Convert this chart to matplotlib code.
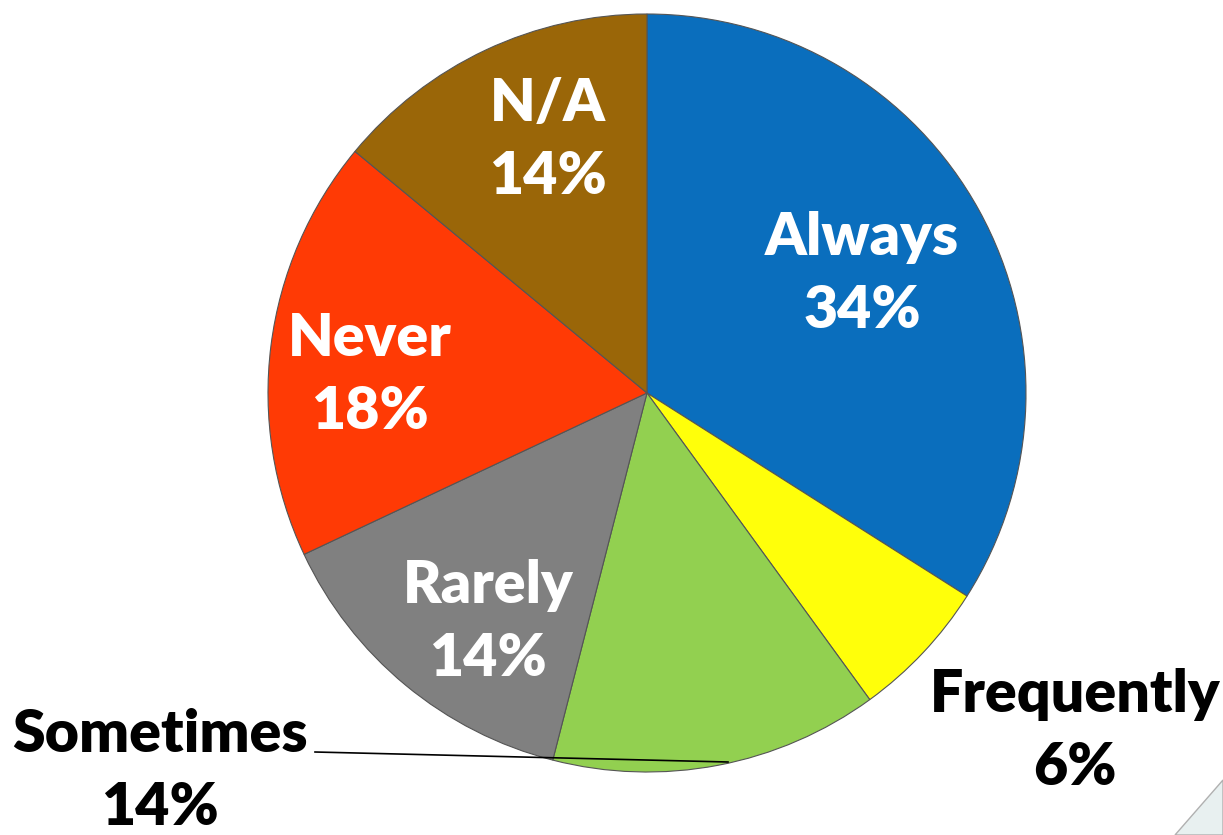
import matplotlib
matplotlib.use("Agg")
import matplotlib.pyplot as plt
from matplotlib.patches import Polygon

categories = ["Always", "Frequently", "Sometimes", "Rarely", "Never", "N/A"]
values = [34, 6, 14, 14, 18, 14]
colors = ["#0A6EBD", "#FFFF0A", "#92D050", "#808080", "#FF3A05", "#9A6608"]
text_colors = ["white", "black", "black", "white", "white", "white"]

W, H = 1223, 835
fig = plt.figure(figsize=(W / 100, H / 100), dpi=100)
ax = fig.add_axes([0, 0, 1, 1])

cx, cy, r = 647, H - 393, 379
wedges, _ = ax.pie(values, colors=colors, startangle=90, counterclock=False,
                   center=(cx, cy), radius=r, frame=True,
                   wedgeprops=dict(edgecolor="#555555", linewidth=0.8))
ax.set_xlim(0, W)
ax.set_ylim(0, H)
ax.set_aspect("equal")
ax.axis("off")

# label positions (image coords: x, y-centre)
label_pos = [(862, 274), (1075, 731), (160, 771), (488, 622), (370, 375), (548, 140)]
font = dict(family=["Lato", "DejaVu Sans"], fontweight="heavy", fontsize=42.5)
for cat, v, (x, y), tc in zip(categories, values, label_pos, text_colors):
    ax.text(x, H - y, f"{cat}\n{v}%", color=tc, ha="center", va="center",
            linespacing=1.45, **font)

# leader line for Sometimes
ax.plot([315, 728], [H - 752, H - 762], color="black", linewidth=1.2)

# page corner
corner = Polygon([[W, H - 780], [1175, 0], [W, 0]], closed=True,
                 facecolor="#E8F0F0", edgecolor="#B0B0B0", linewidth=1)
ax.add_patch(corner)

fig.savefig("out.png", dpi=100)
